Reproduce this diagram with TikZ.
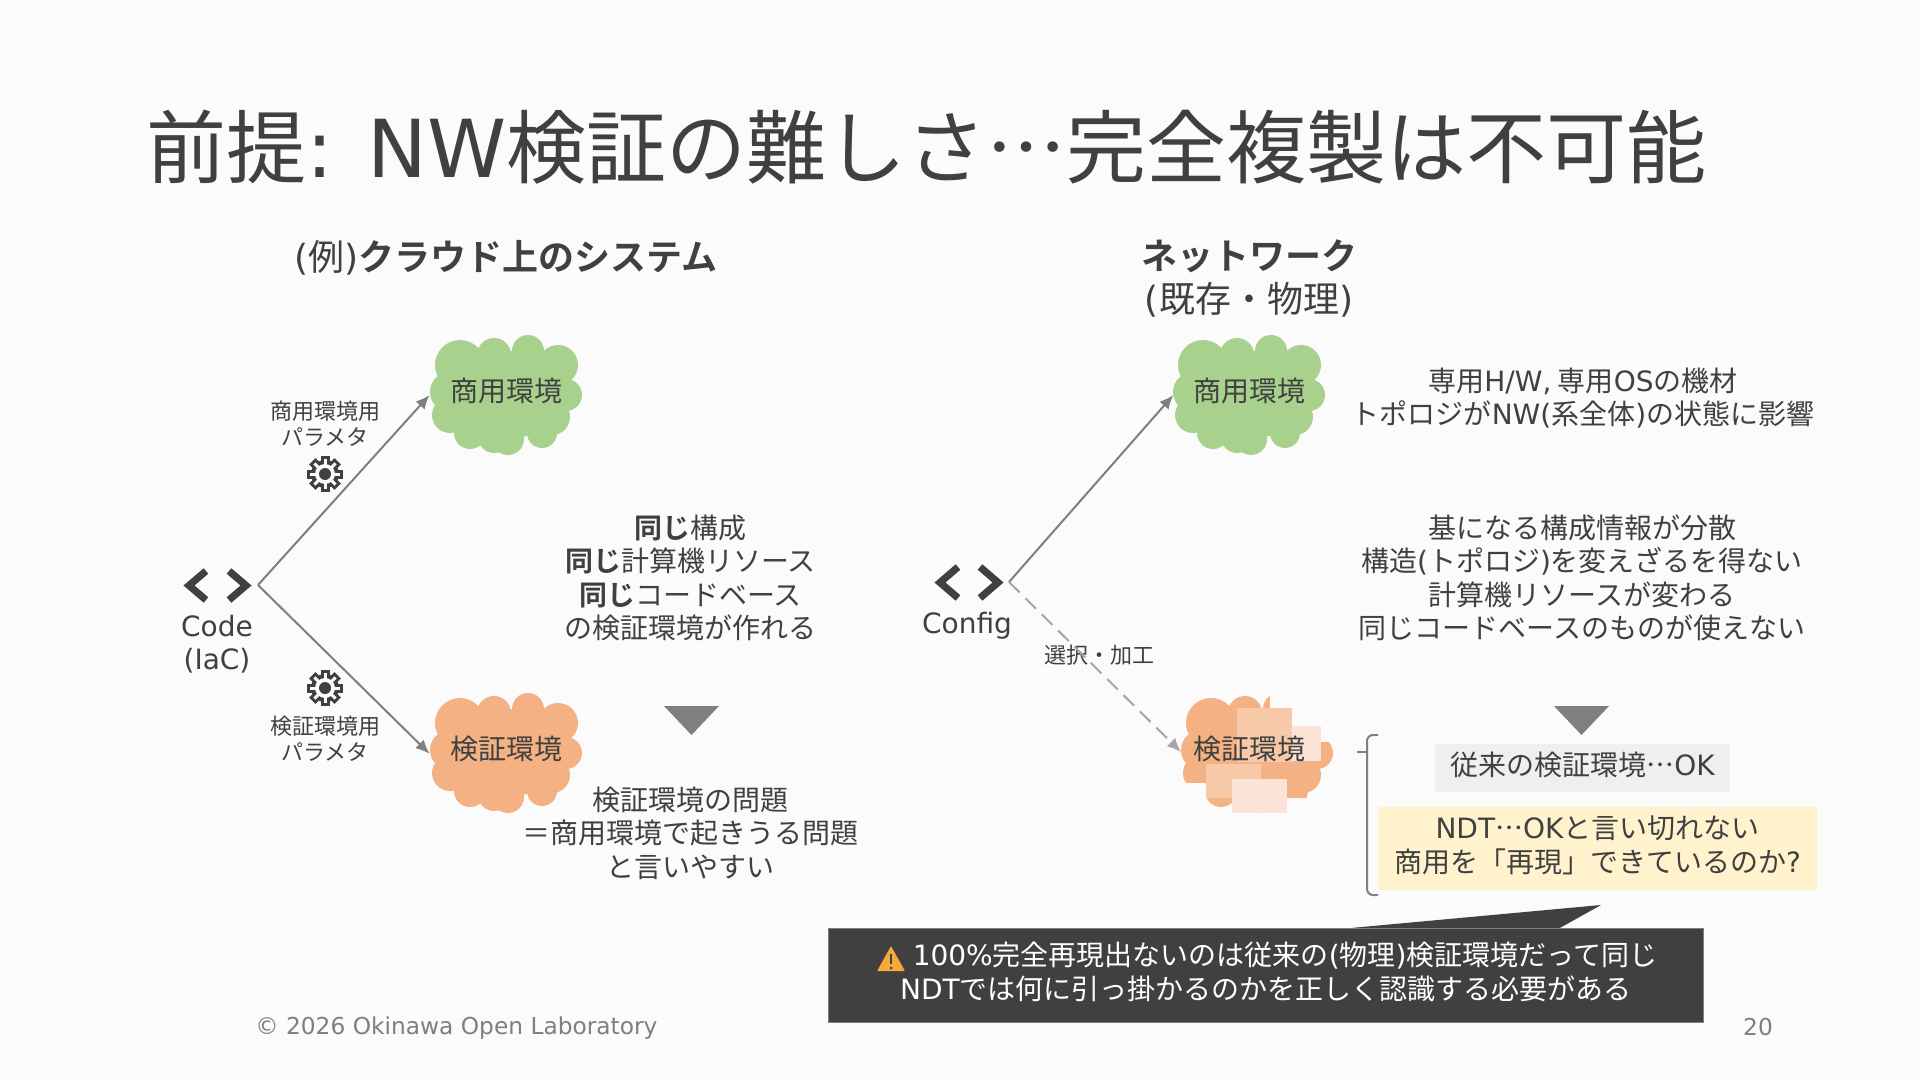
\documentclass[tikz,border=0pt]{standalone}
\usepackage{fontspec}
\setmainfont{Noto Sans CJK JP}[BoldFont=* Bold,Language=Japanese,Script=CJK]
\newfontfamily\latinwide{DejaVu Sans}
\newcommand{\la}[1]{{\latinwide #1}}
\newcommand{\upfix}{\rule[-4.2pt]{0pt}{1pt}}
\usepackage{xcolor}
\usetikzlibrary{arrows.meta, positioning, shapes}

\definecolor{pagebg}{HTML}{FBFBFB}
\definecolor{ink}{HTML}{404040}
\definecolor{linegray}{HTML}{7F7F7F}
\definecolor{dashgray}{HTML}{A6A6A6}
\definecolor{prodgreen}{HTML}{A9D18E}
\definecolor{testorange}{HTML}{F4B183}
\definecolor{patchmid}{HTML}{F7C9A9}
\definecolor{patchpale}{HTML}{FBE3D6}
\definecolor{notegray}{HTML}{EFEFEF}
\definecolor{noteyellow}{HTML}{FFF2CC}
\definecolor{warnorange}{HTML}{F5A83B}

\begin{document}
\begin{tikzpicture}[
    x=0.5pt, y=-0.5pt,
    text=ink,
    body/.style={align=center, inner sep=0pt, font=\fontsize{14}{16.75}\selectfont},
    small/.style={align=center, inner sep=0pt, font=\fontsize{11}{13}\selectfont},
    head/.style={align=center, inner sep=0pt, font=\fontsize{18}{21.5}\selectfont},
    foot/.style={inner sep=0pt, text=linegray, font=\fontsize{11.65}{13}\selectfont},
    envlabel/.style={
        inner sep=0pt,
        minimum width=76pt,
        minimum height=60pt,
        text height=12pt,
        text depth=6pt,
        font=\fontsize{14}{16}\selectfont
    },
    arrow/.style={-{Latex[length=7pt,width=6pt]}, linegray, line width=1pt},
    dasharrow/.style={-{Latex[length=7pt,width=6pt]}, dashgray, line width=1pt, dash pattern=on 7.5pt off 4pt},
    chevron/.style={draw=ink, line width=3.6pt, miter limit=10},
    downtip/.style={linegray, fill=linegray},
    patchbox/.style={inner sep=0pt, minimum width=27.5pt, minimum height=27pt},
    gear/.pic={
        \foreach \a in {0,45,...,315} {
            \fill[ink, rotate=\a] (-4.5,-18) rectangle (4.5,-11);
        }
        \fill[ink] (0,0) circle (14);
        \foreach \a in {0,45,...,315} {
            \fill[pagebg, rotate=\a] (-1.5,-15) rectangle (1.5,-9);
        }
        \fill[pagebg] (0,0) circle (10);
        \fill[ink] (0,0) circle (6);
    },
    envcloud/.pic={
        \fill[pic actions] (0,0) ellipse (56 and 44);
        \foreach \dx/\dy/\r in {-56/-3/20, -46/-30/25, -12/-40/17, 22/-44/16, 52/-30/20, 60/0/16, 46/22/18, 36/38/15, 2/44/16, -12/42/16, -36/38/16, -56/20/18} {
            \fill[pic actions] (\dx,\dy) circle (\r);
        }
    }
]

\fill[pagebg] (0,0) rectangle (1920,1080);
\useasboundingbox (0,0) rectangle (1920,1080);

\node[anchor=west, inner sep=0pt, font=\fontsize{40}{46}\selectfont] (title) at (146,147) {前提\la{: NW}検証の難しさ…完全複製は不可能};

\node[head] (headleft) at (506,257.5) {\la{(}例\la{)}\textbf{クラウド上のシステム}};
\node[head] (headright) at (1249,278) {\textbf{ネットワーク}\\\la{(}既存・物理\la{)}};

\pic[fill=prodgreen] at (506,395) {envcloud};
\pic[fill=testorange] at (506,753) {envcloud};
\pic[fill=prodgreen] at (1249,395) {envcloud};
\pic[fill=testorange] at (1257,753) {envcloud};

\fill[pagebg] (1270,680) rectangle (1345,742);
\fill[pagebg] (1287,798) rectangle (1345,825);
\fill[pagebg] (1170,783) rectangle (1206,825);
\node[patchbox, fill=patchmid] (patcha) at (1264.5,735) {};
\node[patchbox, fill=patchpale, minimum width=14.5pt, minimum height=17.5pt] (patchb) at (1306.5,743.5) {};
\node[patchbox, fill=patchmid, minimum height=17pt] (patchc) at (1233.5,781) {};
\node[patchbox, fill=patchpale, minimum height=17pt] (patchd) at (1259.5,796) {};

\node[envlabel] (prodleft) at (506,395) {商用環境};
\node[envlabel, below=119pt of prodleft] (testleft) {検証環境};
\node[envlabel, right=295.5pt of prodleft] (prodright) {商用環境};
\node[envlabel, below=119pt of prodright] (testright) {検証環境};

\node[small] (prodparam) at (325,424) {商用環境用\\パラメタ};
\node[small] (testparam) at (325,739) {検証環境用\\パラメタ};
\pic at (325,474) {gear};
\pic at (325,688) {gear};

\draw[chevron] (206,571) -- (189,585.5) -- (206,600);
\draw[chevron] (229,571) -- (246,585.5) -- (229,600);
\draw[chevron] (958,567) -- (940,582.5) -- (958,598);
\draw[chevron] (980,567) -- (998,582.5) -- (980,598);

\node[body] (code) at (217,644) {\la{Code}\\\la{(IaC)}};
\node[body] (config) at (967,626) {\la{Config}};
\coordinate (codeapex) at (258,585);
\coordinate (configapex) at (1009,582);
\coordinate (testtip) at (1181,752);

\node[small] (select) at (1099,655) {選択・加工};

\node[body] (same) at (690.5,578) {\textbf{同じ}構成\\\textbf{同じ}計算機リソース\\\textbf{同じ}コードベース\\の検証環境が作れる};
\fill[downtip] (664,706) -- (719,706) -- (691.5,735) -- cycle;
\node[body] (problem) at (690.5,833) {検証環境の問題\\＝商用環境で起きうる問題\\と言いやすい};

\node[body] (special) at (1583,398) {専用\la{H/W,} 専用\la{OS}の機材\\トポロジが\la{NW(}系全体\la{)}の状態に影響};
\node[body] (scatter) at (1582,578) {基になる構成情報が分散\\構造\la{(}トポロジ\la{)}を変えざるを得ない\\計算機リソースが変わる\\同じコードベースのものが使えない};
\fill[downtip] (1554,706) -- (1609,706) -- (1581.5,735) -- cycle;

\node[body, fill=notegray, minimum width=147.5pt, minimum height=24pt] (okbox) at (1582.5,768) {従来の検証環境…\la{OK}\upfix};
\node[body, fill=noteyellow, minimum width=219.5pt, minimum height=41.5pt] (ndtbox) at (1597.5,848.5) {\la{NDT}…\la{OK}と言い切れない\\商用を「再現」できているのか\la{?}\upfix};

\draw[linegray, line width=1pt, rounded corners=3pt] (1378,735) -- (1367,735) -- (1367,752);
\draw[linegray, line width=1pt] (1357,752) -- (1367,752);
\draw[linegray, line width=1pt, rounded corners=3pt] (1367,752) -- (1367,895) -- (1378,895);

\fill[ink] (1340,929) -- (1601,905) -- (1558,929) -- cycle;
\node[body, text=white, fill=ink, draw=linegray, line width=0.5pt, minimum width=437.5pt, minimum height=47pt] (warnbox) at (1266,975) {\hspace{19pt}\la{100\%}完全再現出ないのは従来の\la{(}物理\la{)}検証環境だって同じ\\\la{NDT}では何に引っ掛かるのかを正しく認識する必要がある\upfix};
\fill[warnorange, rounded corners=0.5pt] (891,946) -- (905,971) -- (877,971) -- cycle;
\draw[ink, line width=1.2pt] (891,954) -- (891,964);
\fill[ink] (891,968) circle (1.5);

\node[foot, anchor=west] (copyright) at (255,1028) {\la{© 2026 Okinawa Open Laboratory}};
\node[foot] (page) at (1758,1027) {\la{20}};

\draw[arrow] (codeapex) -- (prodleft.west);
\draw[arrow] (codeapex) -- (testleft.west);
\draw[arrow] (configapex) -- (prodright.west);
\draw[dasharrow] (configapex) -- (testtip);

\end{tikzpicture}
\end{document}
